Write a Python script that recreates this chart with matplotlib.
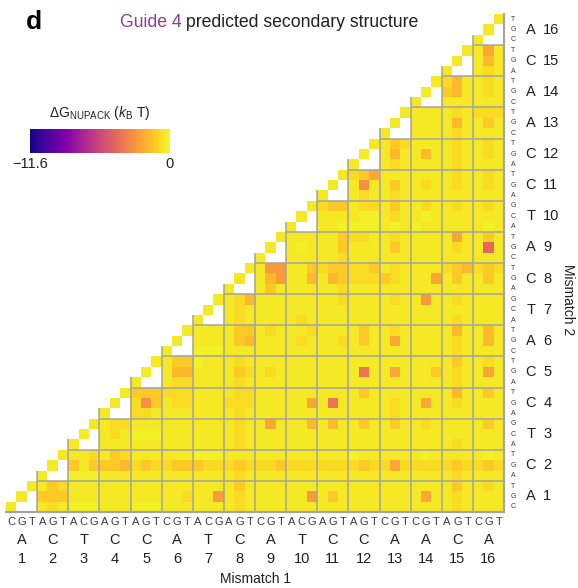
import matplotlib
matplotlib.use("Agg")
import matplotlib.pyplot as plt
import numpy as np

plt.rcParams['font.family'] = ['Liberation Sans', 'DejaVu Sans']
plt.rcParams['mathtext.fontset'] = 'custom'
plt.rcParams['mathtext.rm'] = 'Liberation Sans'
plt.rcParams['mathtext.it'] = 'Liberation Sans:italic'

# guide 4 bases and the three substitutions at each position
guide = ["A", "C", "T", "C", "C", "A", "T", "C", "A", "T", "C", "C", "A", "A", "C", "A"]
subs = ["CGT", "AGT", "ACG", "AGT", "AGT", "CGT", "ACG", "AGT",
        "CGT", "ACG", "AGT", "AGT", "CGT", "CGT", "AGT", "CGT"]
positions = [str(p) for p in range(1, 17)]

vmin = -11.6
vmax = 0.0
# estimated dG (kBT) for each shade code
shade_values = {"0": -0.25, "1": -0.45, "2": -0.8, "3": -1.3, "4": -1.8, "5": -2.3,
                "6": -2.7, "7": -3.1, "8": -3.6, "9": -4.0, "a": -4.5}

# shade code per cell, row 0 (mismatch 2 = 1, sub C) at bottom, '.' = no value
rows = [
    "1.. 121 000 111 000 111 111 121 111 111 111 111 111 111 121 111",
    ".1. 333 111 111 111 112 116 121 111 116 131 111 111 151 121 111",
    "..1 132 111 111 111 111 111 131 111 111 111 111 111 111 131 121",
    "... 1.. 000 111 111 111 111 121 111 111 111 111 111 111 121 111",
    "... .1. 313 334 232 233 322 232 223 222 222 232 252 222 232 232",
    "... ..1 112 132 111 111 000 111 111 111 111 011 111 101 111 101",
    "... ... 1.. 111 111 111 111 121 111 111 111 111 111 111 121 111",
    "... ... .1. 121 000 111 111 121 111 111 111 111 111 111 111 111",
    "... ... ..1 122 111 111 111 121 151 114 141 131 131 121 111 131",
    "... ... ... 1.. 221 111 111 121 111 111 111 111 121 111 111 111",
    "... ... ... .1. 273 122 111 222 111 115 191 111 121 151 121 111",
    "... ... ... ..1 333 222 111 122 111 111 111 131 111 111 141 131",
    "... ... ... ... 1.. 122 111 121 111 111 111 111 111 111 121 111",
    "... ... ... ... .1. 144 111 132 121 111 111 191 151 113 121 151",
    "... ... ... ... ..1 133 011 121 111 111 111 111 111 111 131 121",
    "... ... ... ... ... 1.. 000 111 111 111 111 111 111 111 121 111",
    "... ... ... ... ... .1. 111 134 111 121 112 131 151 111 121 141",
    "... ... ... ... ... ..1 111 133 121 112 111 131 121 111 141 141",
    "... ... ... ... ... ... 1.. 121 111 121 111 111 111 111 121 111",
    "... ... ... ... ... ... .1. 121 111 111 111 111 111 111 111 111",
    "... ... ... ... ... ... ..1 124 111 111 112 111 121 161 121 111",
    "... ... ... ... ... ... ... 1.. 131 111 112 111 111 111 111 111",
    "... ... ... ... ... ... ... .1. 146 114 143 222 321 115 131 131",
    "... ... ... ... ... ... ... ..1 166 113 233 223 121 111 234 232",
    "... ... ... ... ... ... ... ... 1.. 111 112 111 111 111 111 111",
    "... ... ... ... ... ... ... ... .1. 101 113 111 131 111 121 1a1",
    "... ... ... ... ... ... ... ... ..1 111 113 221 121 111 151 131",
    "... ... ... ... ... ... ... ... ... 1.. 110 000 101 011 111 101",
    "... ... ... ... ... ... ... ... ... .1. 111 100 121 101 111 111",
    "... ... ... ... ... ... ... ... ... ..1 233 122 131 121 121 121",
    "... ... ... ... ... ... ... ... ... ... 1.. 121 121 111 111 111",
    "... ... ... ... ... ... ... ... ... ... .1. 171 131 121 121 121",
    "... ... ... ... ... ... ... ... ... ... ..1 235 111 111 121 121",
    "... ... ... ... ... ... ... ... ... ... ... 1.. 121 111 121 111",
    "... ... ... ... ... ... ... ... ... ... ... .1. 141 141 121 121",
    "... ... ... ... ... ... ... ... ... ... ... ..1 132 111 121 121",
    "... ... ... ... ... ... ... ... ... ... ... ... 1.. 111 121 111",
    "... ... ... ... ... ... ... ... ... ... ... ... .1. 111 141 131",
    "... ... ... ... ... ... ... ... ... ... ... ... ..1 111 121 222",
    "... ... ... ... ... ... ... ... ... ... ... ... ... 1.. 111 111",
    "... ... ... ... ... ... ... ... ... ... ... ... ... .1. 341 121",
    "... ... ... ... ... ... ... ... ... ... ... ... ... ..1 241 121",
    "... ... ... ... ... ... ... ... ... ... ... ... ... ... 1.. 121",
    "... ... ... ... ... ... ... ... ... ... ... ... ... ... .1. 141",
    "... ... ... ... ... ... ... ... ... ... ... ... ... ... ..1 151",
    "... ... ... ... ... ... ... ... ... ... ... ... ... ... ... 1..",
    "... ... ... ... ... ... ... ... ... ... ... ... ... ... ... .1.",
    "... ... ... ... ... ... ... ... ... ... ... ... ... ... ... ..1",
]

n = 48
dG = np.full((n, n), np.nan)
for j, r in enumerate(rows):
    for i, c in enumerate(r.replace(" ", "")):
        if c != ".":
            dG[j, i] = shade_values[c]

W, H = 578, 588
fig = plt.figure(figsize=(W / 100, H / 100), dpi=100)

def fx(px):
    return px / W

def fy(py):
    return 1 - py / H

ax = fig.add_axes([fx(6), fy(512), 498 / W, 498 / H])
cmap = plt.get_cmap('plasma').copy()
cmap.set_bad('white')
im = ax.imshow(dG, cmap=cmap, vmin=vmin, vmax=vmax, origin='lower',
               extent=(0, n, 0, n), interpolation='nearest', aspect='auto')
ax.set_xlim(0, n)
ax.set_ylim(0, n)
ax.axis('off')

# block grid
gc = '#a3a3a3'
lw = 1.1
for k in range(1, 16):
    ax.plot([3 * k, 3 * k], [0, 3 * k + 1], color=gc, lw=lw, solid_capstyle='butt')
    ax.plot([3 * k, n], [3 * k, 3 * k], color=gc, lw=lw, solid_capstyle='butt')
ax.plot([0, n], [0, 0], color=gc, lw=lw * 1.4, clip_on=False)
ax.plot([n, n], [0, n], color=gc, lw=lw * 1.4, clip_on=False)

txt = '#231f20'
# bottom labels
xt = ax.get_xaxis_transform()
for b in range(16):
    for s in range(3):
        ax.text(3 * b + s + 0.5, -0.020, subs[b][s], transform=xt, ha='center', va='center',
                fontsize=8, color='#3a3a3a')
    ax.text(3 * b + 1.5, -0.057, guide[b], transform=xt, ha='center', va='center',
            fontsize=10.5, color=txt)
    ax.text(3 * b + 1.5, -0.095, positions[b], transform=xt, ha='center', va='center',
            fontsize=10.5, color=txt)
ax.text(24, -0.135, "Mismatch 1", transform=xt, ha='center', va='center', fontsize=10, color=txt)

# right labels
yt = ax.get_yaxis_transform()
for b in range(16):
    for s in range(3):
        ax.text(1.018, 3 * b + s + 0.5, subs[b][s], transform=yt, ha='center', va='center',
                fontsize=5, color='#3a3a3a')
    ax.text(1.054, 3 * b + 1.5, guide[b], transform=yt, ha='center', va='center',
            fontsize=10.5, color=txt)
    ax.text(1.079, 3 * b + 1.5, positions[b], transform=yt, ha='left', va='center',
            fontsize=10.5, color=txt)
fig.text(fx(568), fy(300), "Mismatch 2", rotation=270, ha='center', va='center',
         fontsize=10, color=txt)

# panel letter and title
fig.text(fx(26), fy(29), "d", fontsize=19, fontweight='bold', color='black', va='baseline')
t1 = fig.text(fx(120), fy(27), "Guide 4", fontsize=12.7, color='#8b3d97', va='baseline')
fig.canvas.draw()
bb = t1.get_window_extent()
fig.text(bb.x1 / W + 4 / W, fy(27), "predicted secondary structure", fontsize=12.7,
         color=txt, va='baseline')

# colour bar
cax = fig.add_axes([fx(30), fy(153), 140 / W, 24 / H])
cb = fig.colorbar(im, cax=cax, orientation='horizontal')
cb.set_ticks([])
cb.outline.set_visible(False)
fig.text(fx(100), fy(113), r'ΔG$_{\mathrm{NUPACK}}$ ($k_{\mathrm{B}}$ T)', ha='center', va='center',
         fontsize=10, color=txt)
fig.text(fx(30), fy(164), "\u221211.6", ha='center', va='center', fontsize=10.5, color=txt)
fig.text(fx(170), fy(164), "0", ha='center', va='center', fontsize=10.5, color=txt)

fig.savefig("out.png", dpi=100)
